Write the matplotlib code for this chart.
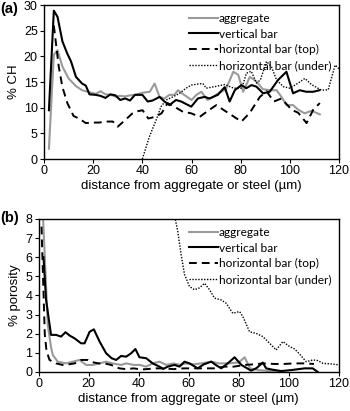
import numpy as np
import matplotlib
matplotlib.use("Agg")
import matplotlib.pyplot as plt

plt.rcParams['font.family'] = ['Liberation Sans', 'DejaVu Sans']

# ---- panel (a): % CH ----
agg_a_x = [2, 4, 5.5, 7.5, 10, 13, 15.5, 18.5, 21, 23, 25, 27, 29, 31, 33, 35, 37, 40, 43, 45, 47, 49,
           51, 53, 54.5, 57, 60, 62, 64, 66.5, 68.5, 70.5, 74, 77, 79, 81, 83.7, 86.4, 89, 92, 94.6,
           96.6, 98.6, 101.3, 103.4, 106, 108.8, 112.2]
agg_a_y = [2, 20.3, 21.2, 18, 15.7, 14.2, 13.4, 13, 12.7, 13.2, 12.6, 12.5, 12.2, 12.3, 12.2, 12.4, 12.5,
           12.9, 13.1, 14.7, 12.1, 11.8, 12.5, 12.5, 13.4, 12.5, 11.5, 12.5, 13.1, 11.5, 12, 12.7, 13.6,
           17, 16.4, 13.1, 16, 15.1, 13.6, 13.4, 13.4, 12.1, 10.5, 10.5, 9.6, 8.9, 9.4, 8.7]

vert_a_x = [2, 4, 5.5, 7.5, 9.5, 11, 13, 15.5, 17, 18.5, 21, 23, 25, 27, 29, 31, 33, 35, 37, 40, 42.2,
            44.2, 47, 49, 51, 53.7, 55.8, 59.9, 62.6, 65.3, 67.3, 70.7, 73.5, 75.5, 77.6, 80.3, 82.3,
            84.4, 86.4, 89.1, 91.8, 95.2, 98.6, 101.3, 104, 106.7, 109.5, 112]
vert_a_y = [9.5, 28.9, 27.7, 22.9, 20.5, 19, 16, 14.7, 14.3, 12.6, 12.5, 12.3, 11.9, 12.6, 12.4, 11.5,
            11.8, 11.4, 12.5, 12.5, 11.2, 11.4, 12.1, 11.2, 10.5, 11.5, 11.2, 10.2, 11.8, 12.1, 11.8,
            12.5, 14, 11.2, 13.4, 14.4, 13.8, 14.4, 14.1, 12.8, 13.1, 15.4, 17, 12.8, 13.4, 13.1, 13.1, 13.4]

top_a_x = [4, 6, 7.5, 9.5, 12, 14.5, 17, 19.5, 22.4, 25, 28, 30, 33, 36, 38, 40.1, 42.4, 45.1, 47.8,
           50.3, 53, 56.5, 59.9, 63.3, 67.3, 70.1, 72.9, 75.5, 78, 80.3, 83.7, 87.8, 90.5, 93.5, 96.6,
           100.7, 103.4, 106.8, 109.5, 112.2]
top_a_y = [26, 18, 14, 10.9, 8.4, 7.8, 7, 7.1, 7.1, 7.3, 7.3, 6.3, 7.6, 8.9, 9.3, 9.5, 7.9, 8.2, 8.9,
           10.9, 10.2, 9.2, 8.9, 8.2, 9.6, 10.5, 9.6, 8.8, 8, 7.3, 9, 12.1, 13.2, 11.2, 11.8, 9.6, 9,
           7, 9.6, 10.9]

under_a_x = [40, 42.9, 45.6, 47.6, 49.7, 52.4, 55.1, 57.8, 59.9, 62.6, 64.6, 66, 69.4, 73.5, 77.2,
             80.5, 82.3, 84.3, 86.4, 88, 90.5, 92.5, 94.6, 97.3, 100, 103.4, 106.1, 108.8, 112.9,
             115.6, 118.4, 120.4]
under_a_y = [0, 4.4, 7.6, 10.2, 11.5, 12.1, 12.8, 13.8, 14.4, 14.6, 14.7, 13.8, 14.1, 14.5, 13.8,
             13.8, 16.7, 17.1, 14.8, 15.4, 19, 18, 15.4, 14.1, 13.8, 14.8, 15.7, 14.5, 13.4, 13.5,
             18.3, 17.4]

# ---- panel (b): % porosity ----
agg_b_x = [1.5, 3.7, 5, 5.7, 7.7, 11, 13.7, 16.4, 19, 21.7, 24.4, 27, 29.5, 33, 35, 38, 40.5, 43,
           45.6, 48.3, 51, 54, 56.5, 59, 62, 65, 69, 72, 76, 80, 82.3, 84.5, 88, 92, 96]
agg_b_y = [9, 2.46, 1.3, 0.89, 0.54, 0.45, 0.54, 0.63, 0.37, 0.37, 0.45, 0.54, 0.45, 0.37, 0.45,
           0.37, 0.37, 0.28, 0.45, 0.54, 0.37, 0.45, 0.37, 0.45, 0.4, 0.45, 0.54, 0.45, 0.45, 0.5,
           0.77, 0.19, 0.1, 0.05, 0.02]

vert_b_x = [2, 3, 5, 7, 9, 10.8, 12.5, 14.4, 17, 18.4, 20.4, 22.1, 24.4, 27, 29.2, 31, 33, 35, 37,
            38.7, 40.3, 43, 45.6, 48.3, 49.8, 51.6, 54.3, 56.3, 58.3, 60.3, 63.6, 66, 69, 71, 73, 76,
            78.3, 81, 84.9, 87, 89.6, 90.9, 93.5, 96.9, 101, 106.2, 109.5, 111.5]
vert_b_y = [6, 3.8, 1.94, 1.94, 1.85, 2.08, 1.9, 1.76, 1.5, 1.5, 2.1, 2.23, 1.59, 0.98, 0.72, 0.63,
            0.84, 0.8, 0.98, 1.2, 0.77, 0.72, 0.45, 0.28, 0.16, 0.28, 0.37, 0.28, 0.54, 0.45, 0.19,
            0.4, 0.54, 0.35, 0.19, 0.5, 0.77, 0.37, 0.07, 0.2, 0.49, 0.19, 0.12, 0.05, 0.1, 0.19,
            0.19, 0]

top_b_x = [1.2, 2.5, 3.2, 4.4, 7, 9.6, 12, 14.4, 17, 19.7, 22, 24, 26.3, 29, 32.3, 35, 38, 41, 44,
           47, 50, 54, 58, 62.3, 66, 70, 74.2, 78, 82.3, 86, 89.6, 94, 98, 102, 106, 110]
top_b_y = [7.6, 2.0, 1.1, 0.63, 0.45, 0.37, 0.4, 0.45, 0.63, 0.63, 0.5, 0.45, 0.45, 0.37, 0.19,
           0.15, 0.19, 0.13, 0.16, 0.19, 0.19, 0.15, 0.19, 0.19, 0.19, 0.19, 0.28, 0.28, 0.37, 0.4,
           0.45, 0.42, 0.42, 0.45, 0.45, 0.42]

under_b_x = [52, 54.3, 55.6, 57, 58.3, 60.3, 62.3, 64.3, 66.3, 68.3, 70.3, 72.9, 74.9, 77.6, 80.3,
             81.6, 84.3, 86.9, 89.6, 92.3, 94.9, 97.6, 100.3, 102.3, 104.5, 106.9, 109.6, 111.5,
             113.6, 117, 120.2]
under_b_y = [11, 8.2, 7.35, 6.1, 5.1, 4.47, 4.3, 4.4, 4.64, 4.3, 3.86, 3.77, 3.6, 3.07, 3.16, 2.9,
             2.1, 2.02, 1.85, 1.5, 1.15, 1.59, 1.33, 1.2, 0.9, 0.54, 0.63, 0.6, 0.45, 0.42, 0.37]

labels = ["aggregate", "vertical bar", "horizontal bar (top)", "horizontal bar (under)"]
styles = [dict(color="#9a9a9a", lw=1.5, ls="-"),
          dict(color="black", lw=1.5, ls="-"),
          dict(color="black", lw=1.4, ls=(0, (4, 2.6))),
          dict(color="black", lw=1.0, ls=(0, (1, 1.1)))]

fig = plt.figure(figsize=(3.5, 4.11), dpi=100)
ax1 = fig.add_axes([0.1257, 0.6131, 0.843, 0.3747])
ax2 = fig.add_axes([0.110, 0.0949, 0.8586, 0.3723])

series_a = [(agg_a_x, agg_a_y), (vert_a_x, vert_a_y), (top_a_x, top_a_y), (under_a_x, under_a_y)]
series_b = [(agg_b_x, agg_b_y), (vert_b_x, vert_b_y), (top_b_x, top_b_y), (under_b_x, under_b_y)]

for ax, series, ymax, ylab in [(ax1, series_a, 30, "% CH"), (ax2, series_b, 8, "% porosity")]:
    for (x, y), lab, st in zip(series, labels, styles):
        ax.plot(x, y, label=lab, **st)
    ax.set_xlim(0, 120)
    ax.set_ylim(0, ymax)
    ax.set_xticks([0, 20, 40, 60, 80, 100, 120])
    ax.tick_params(direction="out", length=3, width=0.8, labelsize=9, pad=1.5)
    for sp in ax.spines.values():
        sp.set_linewidth(1.0)
    ax.set_xlabel("distance from aggregate or steel (\u00b5m)", fontsize=9.5, labelpad=2)
    ax.set_ylabel(ylab, fontsize=9.5, labelpad=3)
    leg = ax.legend(loc="upper right", bbox_to_anchor=(1.0, 1.0), frameon=False,
                    prop={"family": "Lato", "size": 8.6}, handlelength=2.4,
                    handletextpad=0.1, labelspacing=0.4, borderaxespad=0.25)

ax1.set_yticks([0, 5, 10, 15, 20, 25, 30])
ax2.set_yticks(range(0, 9))

fig.text(0.0, 0.978, "(a)", fontsize=10.5, fontweight="bold", va="center", ha="left")
fig.text(0.0, 0.47, "(b)", fontsize=10.5, fontweight="bold", va="center", ha="left")

fig.savefig("out.png", dpi=100)
